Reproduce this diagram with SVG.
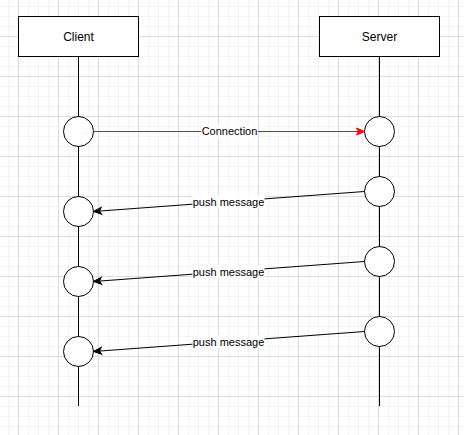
<svg xmlns="http://www.w3.org/2000/svg" width="464" height="435" viewBox="0 0 464 435">
<style>
.box{fill:#fff;stroke:#000;stroke-width:1}
.life{stroke:#000;stroke-width:1;fill:none}
.act{fill:#fff;stroke:#000;stroke-width:1}
.lbl{font-family:"Liberation Sans",Arial,sans-serif;font-size:12px;fill:#000;text-anchor:middle;dominant-baseline:central}
.elbl{font-family:"Liberation Sans",Arial,sans-serif;font-size:11px;fill:#000;text-anchor:middle;dominant-baseline:central}
.lblbg{fill:#fff}
.msg{stroke:#000;stroke-width:1;fill:none}
.conn{stroke:#ff0000;stroke-width:1;fill:none}
</style>
<defs>
<pattern id="grid" patternUnits="userSpaceOnUse" x="18" y="-4" width="40" height="40">
<rect width="40" height="40" fill="#fff"/>
<path d="M10.5,0V40M20.5,0V40M30.5,0V40M0,10.5H40M0,20.5H40M0,30.5H40" stroke="#f4f4f4" stroke-width="1"/>
<path d="M0.5,0V40M0,0.5H40" stroke="#dddddd" stroke-width="1"/>
</pattern>
<marker id="arrB" markerUnits="userSpaceOnUse" markerWidth="10" markerHeight="10" refX="9" refY="5" orient="auto" viewBox="0 0 10 10">
<path d="M1,1.5L9,5L1,8.5L3,5Z" fill="#000" stroke="#000" stroke-width="1"/>
</marker>
<marker id="arrR" markerUnits="userSpaceOnUse" markerWidth="10" markerHeight="10" refX="9" refY="5" orient="auto" viewBox="0 0 10 10">
<path d="M1,1.5L9,5L1,8.5L3,5Z" fill="#ff0000" stroke="#ff0000" stroke-width="1"/>
</marker>
</defs>
<rect width="464" height="435" fill="url(#grid)"/>
<g id="lifelines">
<path class="life" d="M78.5,56.5V406"/>
<path class="life" d="M379.5,56.5V406"/>
</g>
<g id="client">
<rect class="box" x="18.5" y="16.5" width="120" height="40"/>
<text class="lbl" x="78.5" y="36.5">Client</text>
</g>
<g id="server">
<rect class="box" x="319.5" y="16.5" width="120" height="40"/>
<text class="lbl" x="379.5" y="36.5">Server</text>
</g>
<g id="client-act1"><circle class="act" cx="78.5" cy="131.5" r="15"/></g>
<g id="server-act1"><circle class="act" cx="379.5" cy="131.5" r="15"/></g>
<g id="server-act2"><circle class="act" cx="379.5" cy="191.5" r="15"/></g>
<g id="client-act2"><circle class="act" cx="78.5" cy="211.5" r="15"/></g>
<g id="server-act3"><circle class="act" cx="379.5" cy="261.5" r="15"/></g>
<g id="client-act3"><circle class="act" cx="78.5" cy="281.5" r="15"/></g>
<g id="server-act4"><circle class="act" cx="379.5" cy="331.5" r="15"/></g>
<g id="client-act4"><circle class="act" cx="78.5" cy="351.5" r="15"/></g>
<g id="connectors">
<path class="conn" d="M93.5,131.5H364.5" marker-end="url(#arrR)"/>
<rect class="lblbg" x="201" y="125" width="57" height="13"/>
<text class="elbl" x="229.5" y="131">Connection</text>
<path class="msg" d="M364.5,191.5L93.5,211.5" marker-end="url(#arrB)"/>
<rect class="lblbg" x="192.5" y="195" width="72" height="13"/>
<text class="elbl" x="228.5" y="201.5">push message</text>
<path class="msg" d="M364.5,261.5L93.5,281.5" marker-end="url(#arrB)"/>
<rect class="lblbg" x="192.5" y="265" width="72" height="13"/>
<text class="elbl" x="228.5" y="271.5">push message</text>
<path class="msg" d="M364.5,331.5L93.5,351.5" marker-end="url(#arrB)"/>
<rect class="lblbg" x="192.5" y="335" width="72" height="13"/>
<text class="elbl" x="228.5" y="341.5">push message</text>
</g>
</svg>
